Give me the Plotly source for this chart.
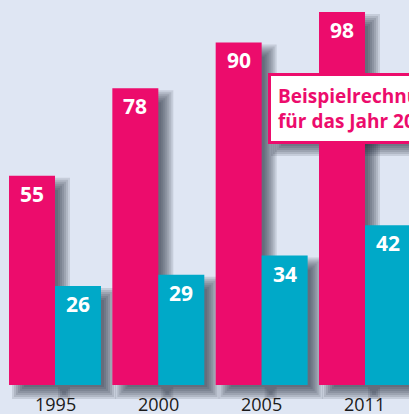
import plotly.graph_objects as go

# ---- data ----
years = ["1995", "2000", "2005", "2011"]
pink_vals = [55, 78, 90, 98]
cyan_vals = [26, 29, 34, 42]
box_text = "Beispielrechnung<br>für das Jahr 2011"

# ---- style ----
PINK = "#EC0C6C"
CYAN = "#00A9C8"
BG = "#DFE6F3"
SHADOW = "rgba(30,35,55,0.13)"
FONT = "Open Sans"
W, H = 409, 414
PX_X = 103.33          # pixels per category
PX_Y = 3.806           # pixels per value unit
BASE_PX = 385          # baseline pixel row
X_MIN = -55 / PX_X
Y_MIN = -(H - BASE_PX) / PX_Y
Y_MAX = BASE_PX / PX_Y
BAR_W = 0.445

fig = go.Figure()

# soft drop shadows (drawn first, behind bars)
DX, DY = 9, 8
spreads = [-6, -4, -2, 0, 2, 4, 6]
for vals, off in ((pink_vals, -BAR_W), (cyan_vals, 0.0)):
    for e in spreads:
        fig.add_trace(go.Bar(
            x=years,
            y=[v + 2 * e / PX_Y for v in vals],
            base=-(DY + e) / PX_Y,
            offset=off + (DX - e) / PX_X,
            width=BAR_W + 2 * e / PX_X,
            marker=dict(color=SHADOW, line=dict(width=0)),
            hoverinfo="skip", showlegend=False,
        ))

fig.add_trace(go.Bar(x=years, y=pink_vals, offset=-BAR_W, width=BAR_W,
                     marker=dict(color=PINK, line=dict(width=0)), showlegend=False))
fig.add_trace(go.Bar(x=years, y=cyan_vals, offset=0, width=BAR_W,
                     marker=dict(color=CYAN, line=dict(width=0)), showlegend=False))

annotations = []
for i, (yr, pv, cv) in enumerate(zip(years, pink_vals, cyan_vals)):
    for v, sgn in ((pv, -1), (cv, 1)):
        annotations.append(dict(
            x=i, y=v, xref="x", yref="y", text=str(v), showarrow=False,
            xanchor="center", yanchor="middle",
            xshift=sgn * BAR_W / 2 * PX_X, yshift=-18,
            font=dict(family=FONT, size=21, color="white", weight="bold"),
        ))
    annotations.append(dict(
        x=i, y=0, xref="x", yref="y", text=yr, showarrow=False,
        xanchor="center", yanchor="middle", yshift=-19,
        font=dict(family=FONT, size=18, color="#1a1a1a"),
    ))

# callout box
BOX_L, BOX_T, BOX_B = 268, 73, 142
annotations.append(dict(
    x=BOX_L / W, y=1 - BOX_T / H, xref="paper", yref="paper",
    text=box_text, showarrow=False, xanchor="left", yanchor="top", align="left",
    font=dict(family=FONT, size=19, color=PINK, weight="bold"),
    bgcolor="white", bordercolor=PINK, borderwidth=3, borderpad=7,
))

shapes = []
for e in spreads:
    shapes.append(dict(
        type="rect", xref="paper", yref="paper", layer="below",
        x0=(BOX_L + DX - e) / W, x1=(600 + DX + e) / W,
        y0=1 - (BOX_B + DY + e) / H, y1=1 - (BOX_T + DY - e) / H,
        fillcolor=SHADOW, line=dict(width=0),
    ))

fig.update_layout(
    width=W, height=H, margin=dict(l=0, r=0, t=0, b=0),
    paper_bgcolor=BG, plot_bgcolor=BG, barmode="overlay",
    xaxis=dict(type="category", range=[X_MIN, X_MIN + W / PX_X], showgrid=False,
               zeroline=False, showticklabels=False, showline=False, fixedrange=True),
    yaxis=dict(range=[Y_MIN, Y_MAX], showgrid=False, zeroline=False,
               showticklabels=False, showline=False, fixedrange=True),
    annotations=annotations, shapes=shapes, showlegend=False,
)

fig.write_html("out.html", config=dict(displayModeBar=False))
